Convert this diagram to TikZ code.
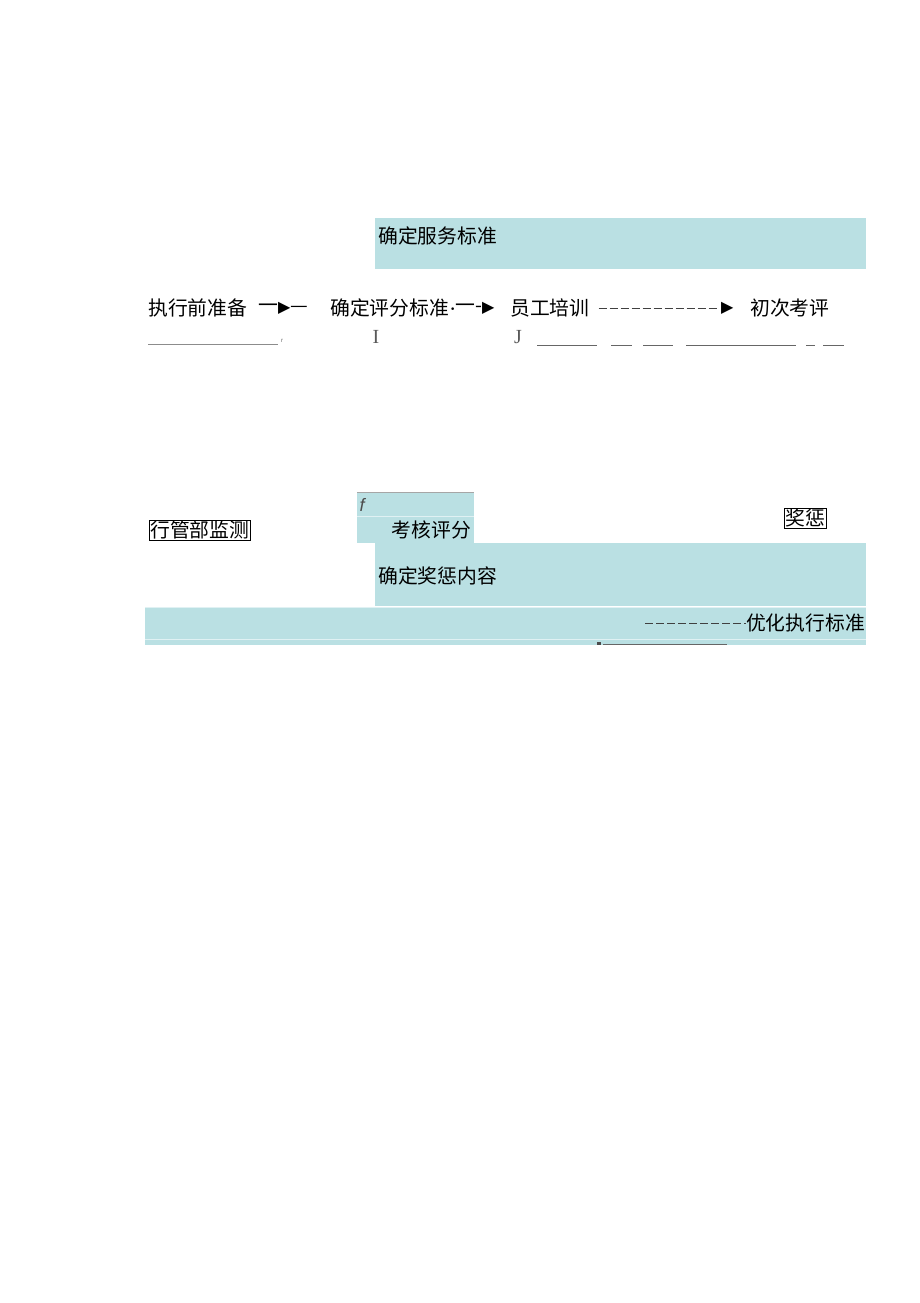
\documentclass[tikz,border=0pt]{standalone}
\usepackage{fontspec}
\newfontfamily\cjk{Noto Sans CJK SC}
\newfontfamily\sym{DejaVu Sans}
\newfontfamily\lat{Liberation Sans}
\newfontfamily\latserif{Liberation Serif}
\definecolor{boxteal}{RGB}{186,224,227}
\tikzset{
  cn/.style={anchor=west, inner sep=0pt, font=\cjk\fontsize{19.8}{20}\selectfont},
  framed/.style={cn, draw, inner sep=1pt, line width=0.6pt},
  latin/.style={inner sep=0pt, text=black!65, font=\latserif\fontsize{20}{20}\selectfont},
  rule/.style={draw=black!60, line width=0.7pt},
  dashline/.style={draw=black!75, line width=0.7pt, dash pattern=on 8pt off 3pt}
}

\begin{document}
\begin{tikzpicture}[x=1pt, y=-1pt]
  \useasboundingbox (0,0) rectangle (920,1303);
  % shaded boxes
  \fill[boxteal] (375,218) rectangle (866,269);
  \fill[boxteal] (357,492) rectangle (474,543);
  \fill[boxteal] (375,543) rectangle (866,606);
  \fill[boxteal] (145,607) rectangle (866,645);
  \draw[black!35] (357,492) -- (474,492);
  \draw[white!55!boxteal] (357,516) -- (474,516);
  \draw[white!55!boxteal] (145,607) -- (866,607);
  \draw[white!55!boxteal] (145,639) -- (866,639);

  \node[cn] (std) at (378,236) {确定服务标准};

  % first row
  \node[cn] (prep) at (148,308) {执行前准备};
  \node[cn] (a1) at (258,308) {一{\sym\fontsize{16}{16}\selectfont ▶}—};
  \node[cn] (crit) at (330,308) {确定评分标准};
  \node[cn] (a2) at (450,308) {{\sym\fontsize{9}{9}\selectfont •}一-{\sym\fontsize{16}{16}\selectfont ▶}};
  \node[cn] (train) at (510,308) {员工培训};
  \node[cn, font=\sym\fontsize{16}{16}\selectfont] (a3) at (721,308) {▶};
  \node[cn] (first) at (750,308) {初次考评};
  \draw[dashline, shorten <=9pt, shorten >=2pt] (train.east) -- (a3.west);

  % second row
  \draw[rule, draw=black!45] (148,344) -- (278,344);
  \node[inner sep=0pt, text=black!60, font=\lat\fontsize{6}{6}\selectfont] (tick) at (282,341) {r};
  \node[latin] (bigI) at (376,337) {I};
  \node[latin] (bigJ) at (518,337) {J};
  \foreach \a/\b in {537/597, 611/632, 643/673, 686/796, 806/815, 823/844}
    \draw[rule] (\a,345) -- (\b,345);

  % lower part
  \node[framed] (watch) at (149,530) {行管部监测};
  \node[inner sep=0pt, text=black!70, font=\lat\itshape\fontsize{18}{18}\selectfont] (fmark) at (362,505) {f};
  \node[cn, anchor=east] (score) at (471,530) {考核评分};
  \node[framed] (reward) at (784,518) {奖惩};
  \node[cn] (content) at (378,576) {确定奖惩内容};
  \node[cn, anchor=east] (opt) at (865,623) {优化执行标准};
  \coordinate (optfrom) at (645,623);
  \draw[dashline] (optfrom) -- (opt.west);
  \fill[black!70] (597,642) rectangle (601,645);
  \draw[rule] (603,644) -- (727,644);
\end{tikzpicture}
\end{document}
